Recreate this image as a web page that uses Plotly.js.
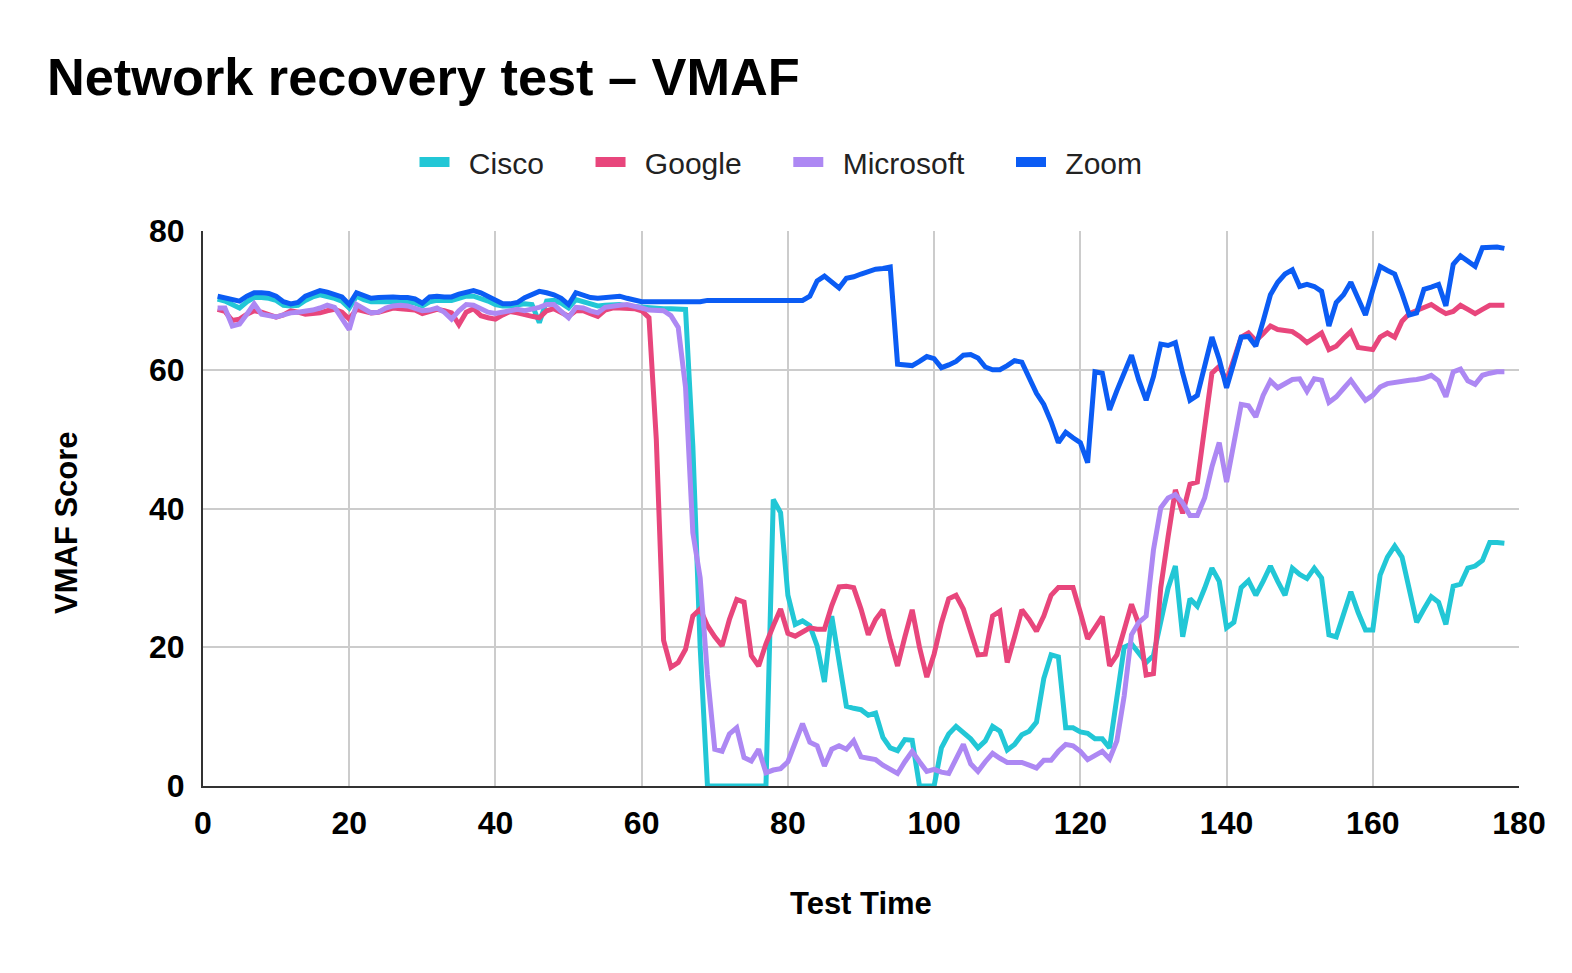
<!DOCTYPE html>
<html>
<head>
<meta charset="utf-8">
<script src="https://cdn.plot.ly/plotly-3.0.1.min.js"></script>
<style>html,body{margin:0;padding:0;background:#fff;}#chart{width:1572px;height:973px;}</style>
</head>
<body>
<div id="chart"></div>
<script>
// Sample positions (test time) 2..178, one sample per unit
const timeStart = 2, timeEnd = 178;
const testTime = [];
for (let t = timeStart; t <= timeEnd; t++) testTime.push(t);

const seriesNames = ["Cisco", "Google", "Microsoft", "Zoom"];

const cisco = [
70.2,69.9,69.4,68.9,69.8,70.4,70.4,70.3,70.0,69.3,69.2,69.3,70.0,70.5,70.8,70.6,70.3,69.9,68.9,70.6,70.1,69.8,69.8,69.9,69.8,69.8,69.8,69.6,69.2,
69.8,70.0,70.0,70.0,70.3,70.6,70.6,70.3,69.9,69.4,69.2,69.2,69.3,69.5,69.4,66.8,69.9,70.0,69.6,68.9,70.1,69.8,69.5,69.2,69.3,69.4,69.4,69.2,69.1,69.0,
68.9,68.8,68.8,68.8,68.8,68.7,49.0,20.0,0,0,0,0,0,0,0,0,0,41.3,39.4,27.5,23.3,23.8,23.1,20.2,15.0,24.5,18.3,11.5,
11.2,11.0,10.2,10.5,7.0,5.5,5.1,6.7,6.6,0,0,0,5.5,7.5,8.6,7.8,6.8,5.5,6.5,8.6,7.9,5.2,6.0,7.4,7.9,9.2,15.5,18.9,18.6,8.4,8.4,7.8,
7.6,6.8,6.8,5.5,12.5,20.0,20.5,19.0,17.8,18.8,24.0,28.5,31.7,21.5,27.0,25.9,28.5,31.4,29.5,22.8,23.6,28.6,29.6,27.5,29.5,31.7,29.5,27.5,31.4,
30.5,29.9,31.4,30.0,21.8,21.5,25.0,28.0,25.0,22.5,22.5,30.4,33.0,34.6,33.0,28.0,23.6,25.5,27.3,26.5,23.3,28.8,29.1,31.4,31.7,32.5,35.1,35.1,35.0
];

const google = [
68.7,68.4,67.1,67.3,68.0,68.5,68.3,68.0,67.6,67.9,68.5,68.3,68.0,68.1,68.2,68.5,68.7,68.3,67.3,68.7,68.4,68.2,68.3,68.6,68.9,68.8,68.7,68.6,68.1,
68.4,68.7,68.5,68.2,66.5,68.3,68.8,67.8,67.5,67.3,67.9,68.4,68.2,67.9,67.7,67.5,68.5,68.8,68.2,67.7,68.5,68.5,68.1,67.7,68.6,68.9,68.9,68.9,68.8,68.5,
67.5,50.0,21.0,17.1,17.8,19.7,24.5,25.5,23.1,21.5,20.2,24.0,26.9,26.5,18.8,17.3,20.5,23.1,25.5,22.0,21.6,22.2,22.8,22.6,22.6,26.0,28.7,28.8,
28.6,25.5,21.8,24.0,25.4,21.0,17.3,21.5,25.4,20.0,15.7,19.0,23.5,27.0,27.5,25.5,22.0,18.9,19.0,24.5,25.2,17.8,21.5,25.4,24.0,22.3,24.5,27.5,28.6,28.6,28.6,25.0,
21.2,22.8,24.4,17.3,18.9,22.5,26.2,23.3,16.0,16.2,28.6,35.9,42.7,39.3,43.5,43.8,52.0,59.5,60.5,58.4,61.5,64.7,65.3,64.2,65.2,66.3,65.8,65.6,65.5,
64.8,63.9,64.6,65.3,62.9,63.4,64.5,65.5,63.2,63.0,62.9,64.7,65.3,64.7,67.0,68.1,68.5,69.0,69.4,68.7,68.1,68.4,69.3,68.7,68.1,68.7,69.3,69.3,69.3
];

const microsoft = [
68.9,68.9,66.3,66.6,68.0,69.5,68.0,67.8,67.6,67.9,68.2,68.3,68.4,68.6,68.9,69.3,69.0,67.5,65.8,69.4,68.8,68.2,68.3,68.9,69.2,69.3,69.2,68.9,68.5,
68.6,68.9,68.3,67.3,68.5,69.4,69.3,68.7,68.3,68.1,68.3,68.5,68.7,68.5,68.7,69.0,69.4,69.4,68.4,67.5,69.0,68.9,68.5,68.2,69.0,69.2,69.3,69.4,69.2,68.9,
68.6,68.5,68.5,67.8,66.1,57.5,36.5,30.0,16.0,5.3,5.0,7.5,8.4,4.1,3.6,5.3,1.9,2.3,2.5,3.5,6.5,9.0,6.3,5.8,2.9,5.3,5.8,5.3,
6.5,4.2,4.0,3.8,3.0,2.3,1.8,3.5,5.0,3.5,2.1,2.4,2.0,1.8,4.0,6.0,3.2,2.1,3.5,4.7,4.0,3.4,3.4,3.4,3.0,2.6,3.7,3.7,5.0,6.0,5.8,5.0,
3.8,4.5,5.0,3.9,6.5,13.0,21.8,23.6,24.5,34.0,40.1,41.5,42.0,40.8,39.0,39.0,41.5,46.0,49.5,43.8,49.5,55.0,54.8,53.2,56.3,58.4,57.4,58.0,58.6,
58.7,56.9,58.7,58.5,55.3,56.1,57.3,58.5,57.0,55.6,56.3,57.5,58.0,58.2,58.4,58.5,58.6,58.8,59.2,58.4,56.1,59.7,60.1,58.4,57.9,59.2,59.5,59.7,59.7
];

const zoom = [
70.6,70.4,70.1,69.9,70.6,71.1,71.1,71.0,70.6,69.8,69.5,69.7,70.6,71.0,71.4,71.2,70.9,70.5,69.4,71.1,70.7,70.3,70.4,70.5,70.5,70.4,70.4,70.2,69.6,
70.5,70.6,70.5,70.5,70.9,71.2,71.4,71.1,70.6,70.1,69.5,69.5,69.7,70.4,70.8,71.3,71.1,70.8,70.3,69.4,71.1,70.8,70.4,70.3,70.4,70.5,70.6,70.3,70.1,69.8,
69.8,69.8,69.8,69.8,69.8,69.8,69.8,69.8,70.0,70.0,70.0,70.0,70.0,70.0,70.0,70.0,70.0,70.0,70.0,70.0,70.0,70.0,
70.6,72.8,73.5,72.6,71.8,73.2,73.4,73.8,74.2,74.5,74.6,74.8,60.8,60.7,60.6,61.2,61.9,61.6,60.3,60.7,61.2,62.1,62.2,61.7,60.4,60.0,60.0,60.6,61.3,61.1,
58.8,56.6,55.0,52.5,49.5,51.0,50.2,49.5,46.6,59.7,59.5,54.2,57.0,59.5,62.1,58.5,55.6,59.0,63.7,63.5,63.9,59.5,55.6,56.3,60.5,64.7,61.5,57.4,61.0,64.7,64.8,63.4,67.0,70.8,72.6,
73.8,74.4,72.0,72.3,72.0,71.3,66.3,69.7,70.8,72.6,70.2,67.9,71.5,74.9,74.3,73.8,71.0,67.9,68.2,71.6,71.9,72.3,69.2,75.2,76.4,75.6,74.9,77.6,77.7,77.7,77.5
];

const seriesValues = [cisco, google, microsoft, zoom];
const seriesColors = ["#22C7D6", "#E8467C", "#AD88F3", "#0B5CF4"];

const xTicks = [0, 20, 40, 60, 80, 100, 120, 140, 160, 180];
const yTicks = [0, 20, 40, 60, 80];

const FONT = 'Arial, "Liberation Sans", sans-serif';
const NB = '\u00a0';
const THIN = '\u2009';

// Data traces (legend handled by legend-only entries below)
const traces = seriesNames.map((name, i) => ({
  type: 'scatter',
  mode: 'lines',
  name: name,
  x: testTime,
  y: seriesValues[i],
  line: { color: seriesColors[i], width: 5 },
  showlegend: false,
  hoverinfo: 'skip'
}));

// Legend-only entries (no data drawn) with thick swatches
seriesNames.forEach((name, i) => {
  traces.push({
    type: 'scatter',
    mode: 'lines',
    name: NB + THIN + name + NB.repeat(5),
    x: [null],
    y: [null],
    line: { color: seriesColors[i], width: 10 },
    showlegend: true,
    hoverinfo: 'skip'
  });
});

const axisCommon = {
  showgrid: true,
  gridcolor: '#cccccc',
  gridwidth: 2,
  showline: true,
  linecolor: '#333333',
  linewidth: 2,
  zeroline: false,
  ticks: 'outside',
  tickcolor: 'rgba(0,0,0,0)',
  tickfont: { family: FONT, size: 32, color: '#000', weight: 700 },
  tickmode: 'array'
};

const layout = {
  width: 1572,
  height: 973,
  paper_bgcolor: '#ffffff',
  plot_bgcolor: '#ffffff',
  margin: { l: 203, r: 53, t: 231, b: 187 },
  title: {
    text: 'Network recovery test – VMAF',
    font: { family: FONT, size: 52.3, color: '#000', weight: 700 },
    xref: 'container', x: 47 / 1572, xanchor: 'left',
    yref: 'container', y: 1 - 77 / 973, yanchor: 'middle'
  },
  legend: {
    orientation: 'h',
    xref: 'container', x: 0.5 + 16 / 1572, xanchor: 'center',
    yref: 'container', y: 1 - 162 / 973, yanchor: 'middle',
    font: { family: FONT, size: 30, color: '#222' },
    bgcolor: 'rgba(0,0,0,0)'
  },
  xaxis: Object.assign({}, axisCommon, {
    range: [0, 180],
    tickvals: xTicks,
    ticktext: xTicks.map(String),
    ticklen: 8
  }),
  yaxis: Object.assign({}, axisCommon, {
    range: [0, 80],
    tickvals: yTicks,
    ticktext: yTicks.map(String),
    ticklen: 10
  }),
  annotations: [
    {
      text: 'Test Time', showarrow: false,
      xref: 'paper', x: (861 - 203) / 1316, xanchor: 'center',
      yref: 'paper', y: (786 - 903) / 555, yanchor: 'middle',
      font: { family: FONT, size: 31, color: '#000', weight: 700 }
    },
    {
      text: 'VMAF Score', showarrow: false, textangle: -90,
      xref: 'paper', x: (66 - 203) / 1316, xanchor: 'center',
      yref: 'paper', y: (786 - 523) / 555, yanchor: 'middle',
      font: { family: FONT, size: 31, color: '#000', weight: 700 }
    }
  ],
  showlegend: true
};

Plotly.newPlot('chart', traces, layout, { displayModeBar: false, staticPlot: true });
</script>
</body>
</html>
